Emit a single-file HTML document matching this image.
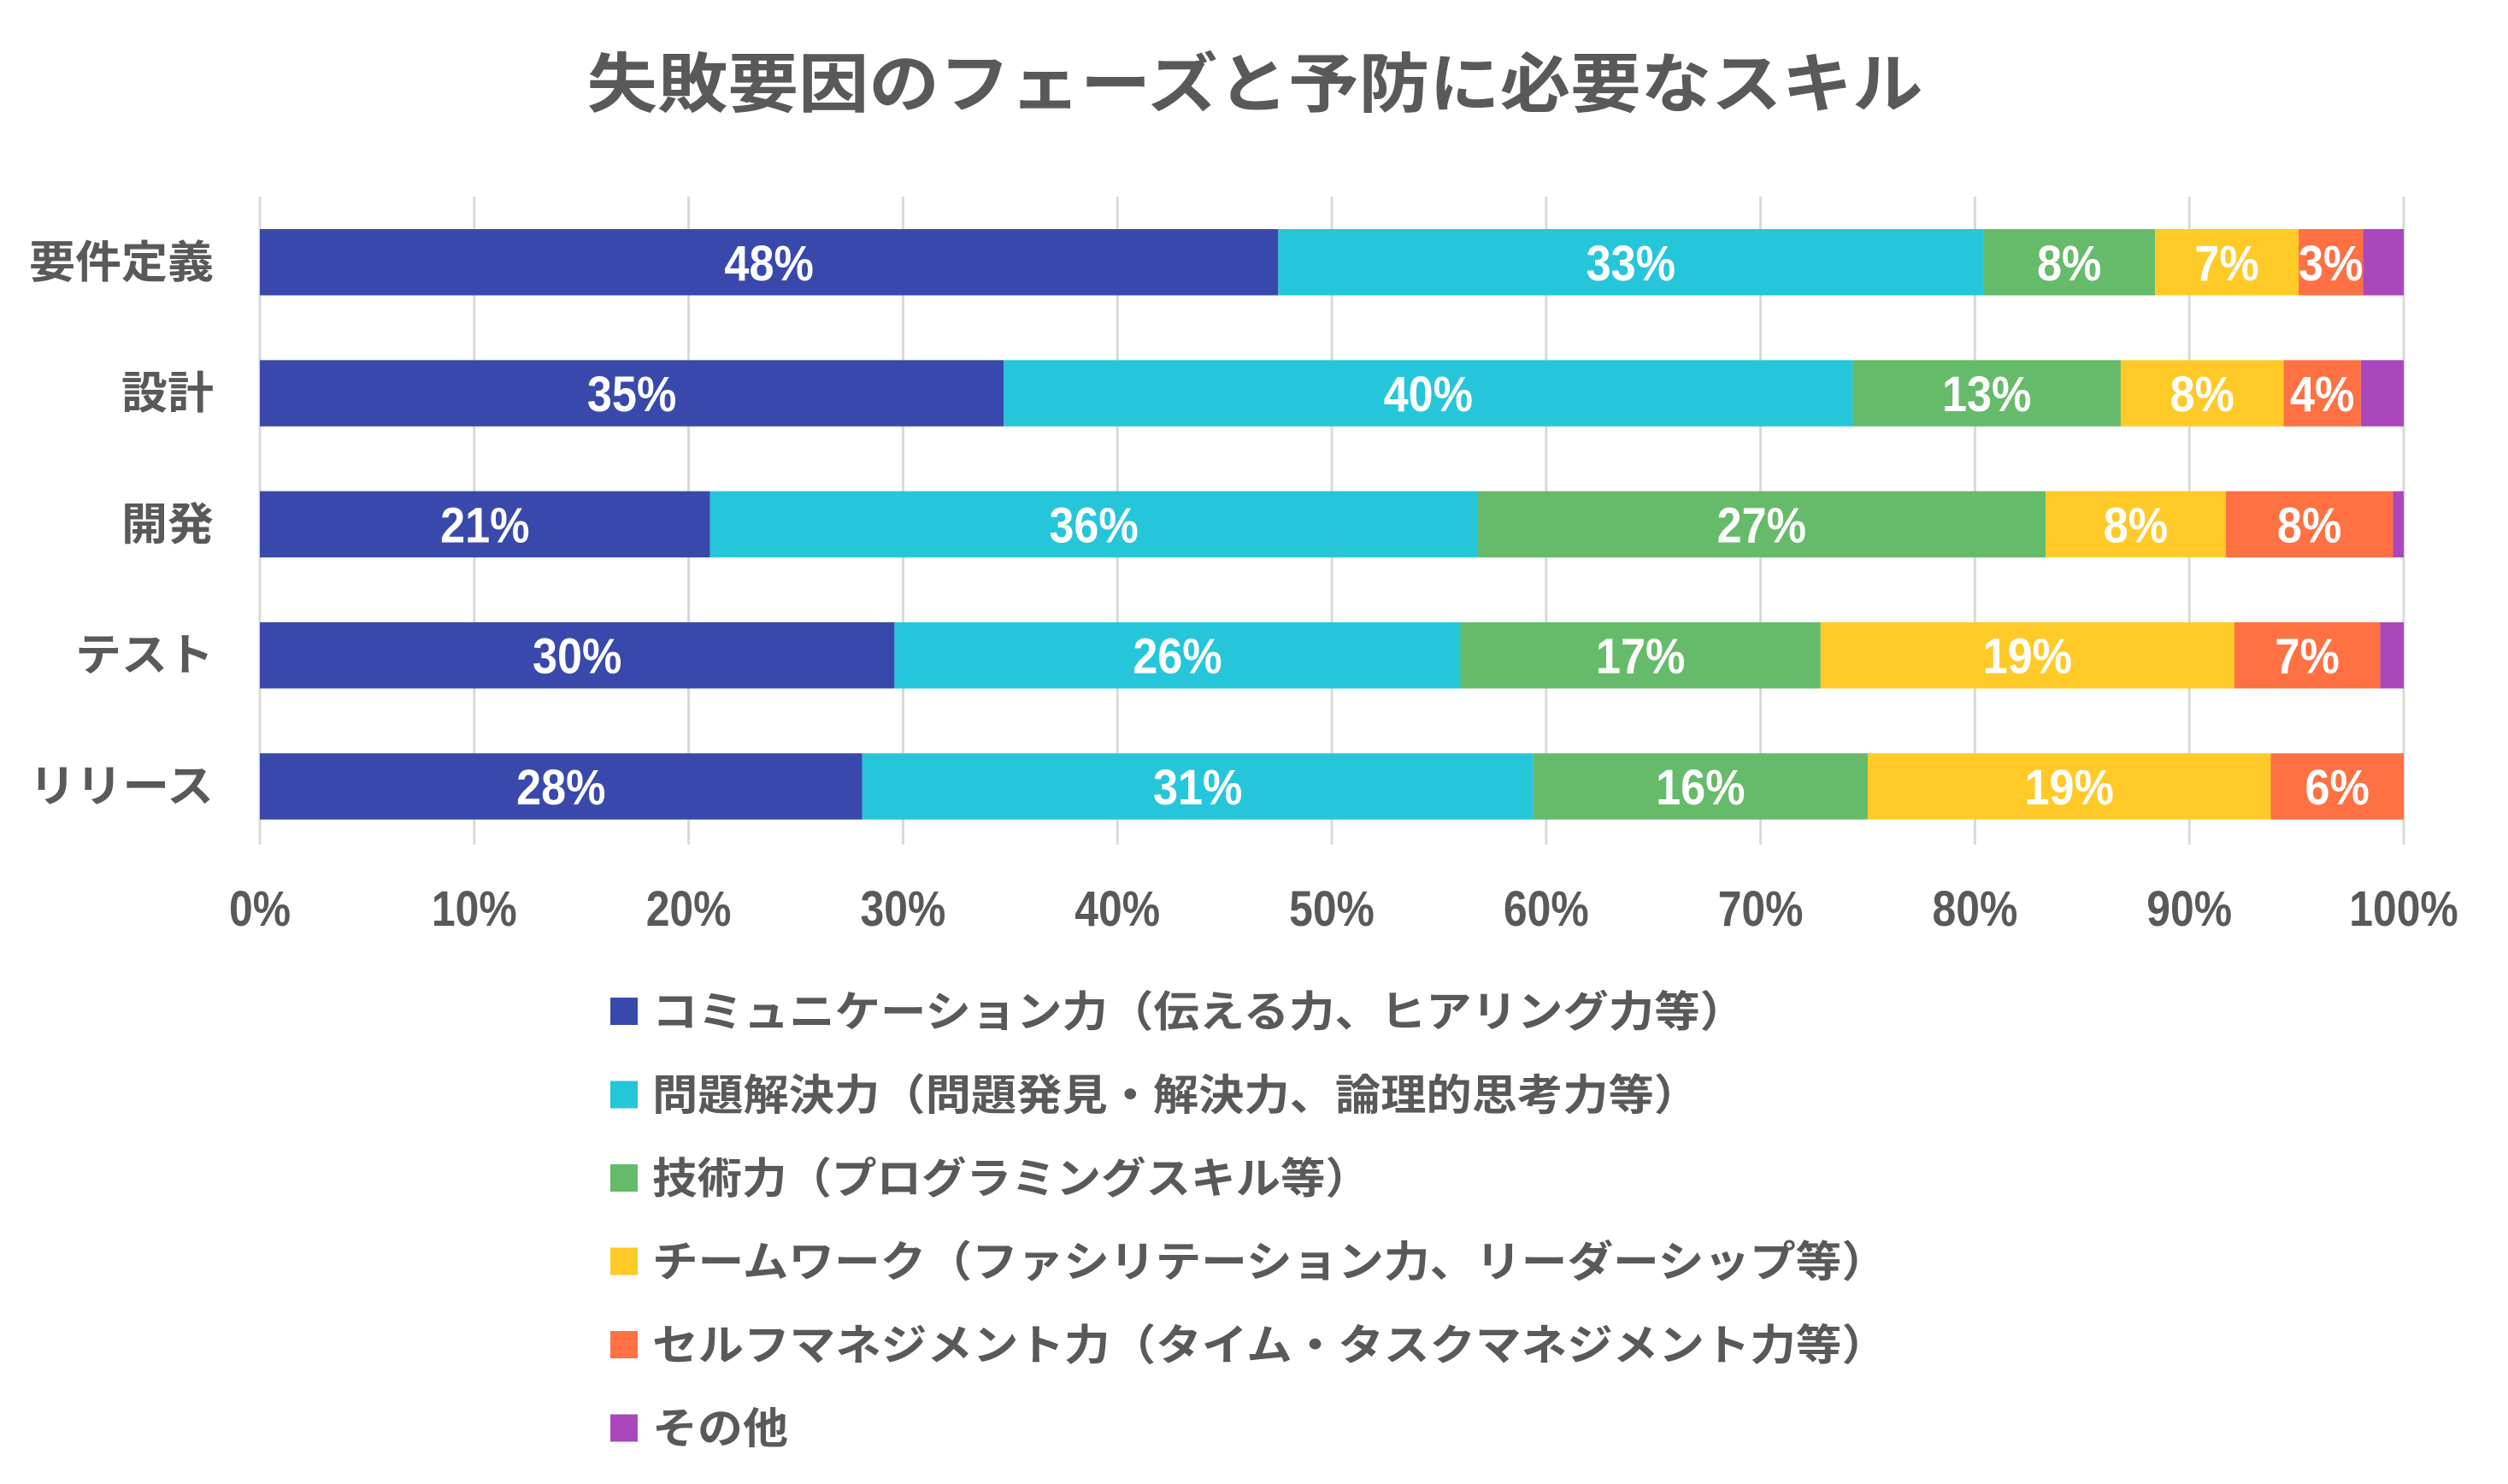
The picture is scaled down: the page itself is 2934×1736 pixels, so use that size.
<!DOCTYPE html>
<html><head><meta charset="utf-8"><style>
html,body{margin:0;padding:0;background:#fff;}
svg{display:block;}
</style></head><body>
<svg id="chart" width="2934" height="1736" viewBox="0 0 2934 1736" xmlns="http://www.w3.org/2000/svg" font-family="'Liberation Sans Narrow','Liberation Sans','Noto Sans CJK JP',sans-serif">
<text x="1468" y="125" text-anchor="middle" font-size="76" font-weight="bold" fill="#595959" font-family="'Liberation Sans','Noto Sans CJK JP',sans-serif" textLength="1563" lengthAdjust="spacingAndGlyphs">失敗要因のフェーズと予防に必要なスキル</text>
<g id="grid"></g>
<g id="bars"></g>
<g id="ylabels"></g>
<g id="xlabels"></g>
<g id="legend"></g>
</svg>
<script>
const categories = ["要件定義","設計","開発","テスト","リリース"];
const seriesNames = ["コミュニケーション力（伝える力、ヒアリング力等）","問題解決力（問題発見・解決力、論理的思考力等）","技術力（プログラミングスキル等）","チームワーク（ファシリテーション力、リーダーシップ等）","セルフマネジメント力（タイム・タスクマネジメント力等）","その他"];
const communication = [47.5,34.7,21.0,29.6,28.1];
const problemSolving = [32.9,39.6,35.8,26.4,31.3];
const technical = [8.0,12.5,26.5,16.8,15.6];
const teamwork = [6.7,7.6,8.4,19.3,18.8];
const selfManagement = [3.0,3.6,7.8,6.8,6.2];
const other = [1.9,2.0,0.5,1.1,0.0];
const xTicks = [0,10,20,30,40,50,60,70,80,90,100];
const series = [communication,problemSolving,technical,teamwork,selfManagement,other];
const colors = ["#3949AB","#26C6DA","#66BB6A","#FFCA28","#FF7043","#AB47BC"];
const legendWidths = [1279,1225,840,1445,1445,159];

const NS="http://www.w3.org/2000/svg";
const X0=304,X1=2812,YT=230,YB=988,BAR_TOP0=268,BAR_STEP=153.3,BAR_H=77.5;
const xs=v=>X0+(X1-X0)*v/100;
const yc=i=>BAR_TOP0+i*BAR_STEP;
function mk(tag,attrs,parent){const e=document.createElementNS(NS,tag);for(const k in attrs)e.setAttribute(k,attrs[k]);parent.appendChild(e);return e;}
function numW(s,fs,f){let w=0;for(const c of s)w+=(c==='%'?0.889:0.556);return w*fs*f;}

const grid=document.getElementById('grid');
xTicks.forEach(t=>{
  const l=mk('line',{x1:xs(t),x2:xs(t),y1:YT,y2:YB,stroke:'#d9d9d9','stroke-width':3},grid);
  
  
});
const xl=document.getElementById('xlabels');
xTicks.forEach(t=>{
  const s=t+'%';
  const tx=mk('text',{x:xs(t),y:1083,'text-anchor':'middle','font-size':58,'font-weight':'bold',fill:'#595959',textLength:numW(s,58,0.86),lengthAdjust:'spacingAndGlyphs'},xl);
  tx.textContent=s;
  
  
});
const bars=document.getElementById('bars');
categories.forEach((c,i)=>{
  let acc=0;
  series.forEach((ser,j)=>{
    const v=ser[i];
    if(v<=0)return;
    const x=xs(acc),w=xs(acc+v)-x;
    const r=mk('rect',{x:x,y:yc(i),width:w,height:BAR_H,fill:colors[j]},bars);
    
    
    if(v>=2.5){
      const s=Math.round(v)+'%';
      const t=mk('text',{x:x+w/2,y:yc(i)+BAR_H/2+21,'text-anchor':'middle','font-size':58,'font-weight':'bold',fill:'#fff',textLength:numW(s,58,0.9),lengthAdjust:'spacingAndGlyphs'},bars);
      t.textContent=s;
      
      
    }
    acc+=v;
  });
});
const yl=document.getElementById('ylabels');
categories.forEach((c,i)=>{
  const t=mk('text',{x:250,y:yc(i)+BAR_H/2+18,'text-anchor':'end','font-size':52,'font-weight':'bold',fill:'#595959','font-family':"'Liberation Sans','Noto Sans CJK JP',sans-serif",textLength:c.length*54,lengthAdjust:'spacingAndGlyphs'},yl);
  t.textContent=c;
  
  
});
const lg=document.getElementById('legend');
seriesNames.forEach((n,j)=>{
  const cy=1183+j*97.5;
  const r=mk('rect',{x:714,y:cy-16,width:32,height:32,fill:colors[j]},lg);
  
  
  const t=mk('text',{x:763,y:cy+18,'font-size':50,'font-weight':'bold',fill:'#595959','font-family':"'Liberation Sans','Noto Sans CJK JP',sans-serif",textLength:legendWidths[j],lengthAdjust:'spacingAndGlyphs'},lg);
  t.textContent=n;
  
  
});
</script>
</body></html>
